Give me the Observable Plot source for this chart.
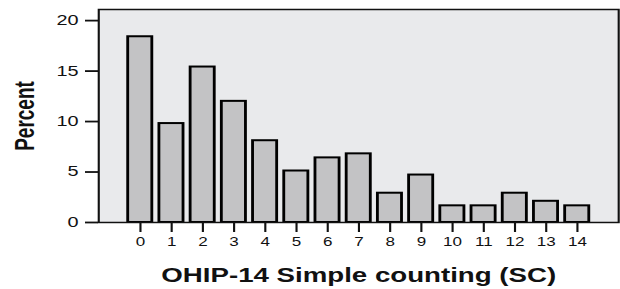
<!DOCTYPE html>
<html>
<head>
<meta charset="utf-8">
<script src="https://cdn.jsdelivr.net/npm/d3@7"></script>
<script src="https://cdn.jsdelivr.net/npm/@observablehq/plot@0.6"></script>
<style>
  html, body { margin: 0; padding: 0; background: #fff; }
  #chart { width: 620px; height: 289px; overflow: hidden; }
  #chart svg { transform-origin: 0 0; display: block; }
</style>
</head>
<body>
<div id="chart"></div>
<script>
// Data
const scores = [0, 1, 2, 3, 4, 5, 6, 7, 8, 9, 10, 11, 12, 13, 14];
const percents = [18.4, 9.8, 15.4, 12.0, 8.1, 5.1, 6.4, 6.8, 2.9, 4.7, 1.65, 1.65, 2.9, 2.1, 1.65];
const yTicks = [0, 5, 10, 15, 20];
const xTitle = "OHIP-14 Simple counting (SC)";
const yTitle = "Percent";

const data = scores.map((s, i) => ({score: s, percent: percents[i]}));

// The original figure is horizontally stretched; draw at a narrower width and stretch.
const stretch = 1.4188;
const W = 620 / stretch;
const font = "'Liberation Sans', Arial, Helvetica, sans-serif";

const chart = Plot.plot({
  width: W,
  height: 289,
  marginLeft: 69.1,
  marginRight: 1.4,
  marginTop: 9,
  marginBottom: 67,
  style: {fontFamily: font, background: "white", overflow: "visible"},
  x: {type: "band", domain: scores, paddingInner: 0.233, paddingOuter: 0.936},
  y: {domain: [0, 21.1]},
  marks: [
    Plot.frame({fill: "#e9eaec"}),
    Plot.barY(data, {x: "score", y: "percent", fill: "#c3c3c5", stroke: "black", strokeWidth: 2}),
    Plot.frame({stroke: "#111", strokeWidth: 1.5}),
    Plot.axisY({ticks: yTicks, tickSize: 9.2, tickPadding: 5, fontSize: 14, strokeWidth: 1.8, stroke: "#111", label: null, fill: "#111"}),
    Plot.axisX({tickSize: 10, tickPadding: 5, fontSize: 12, strokeWidth: 1.5, stroke: "#111", label: null, fill: "#111"}),
    Plot.text([yTitle], {frameAnchor: "left", dx: -52, rotate: -90, text: d => d, fontSize: 19, fontWeight: "bold", fill: "#111", textAnchor: "middle", lineAnchor: "middle"}),
    Plot.text([xTitle], {frameAnchor: "bottom", dy: 53, text: d => d, fontSize: 19.5, fontWeight: "bold", fill: "#111", textAnchor: "middle", lineAnchor: "middle"})
  ]
});
chart.style.transform = `scaleX(${stretch})`;
document.getElementById("chart").appendChild(chart);
</script>
</body>
</html>
